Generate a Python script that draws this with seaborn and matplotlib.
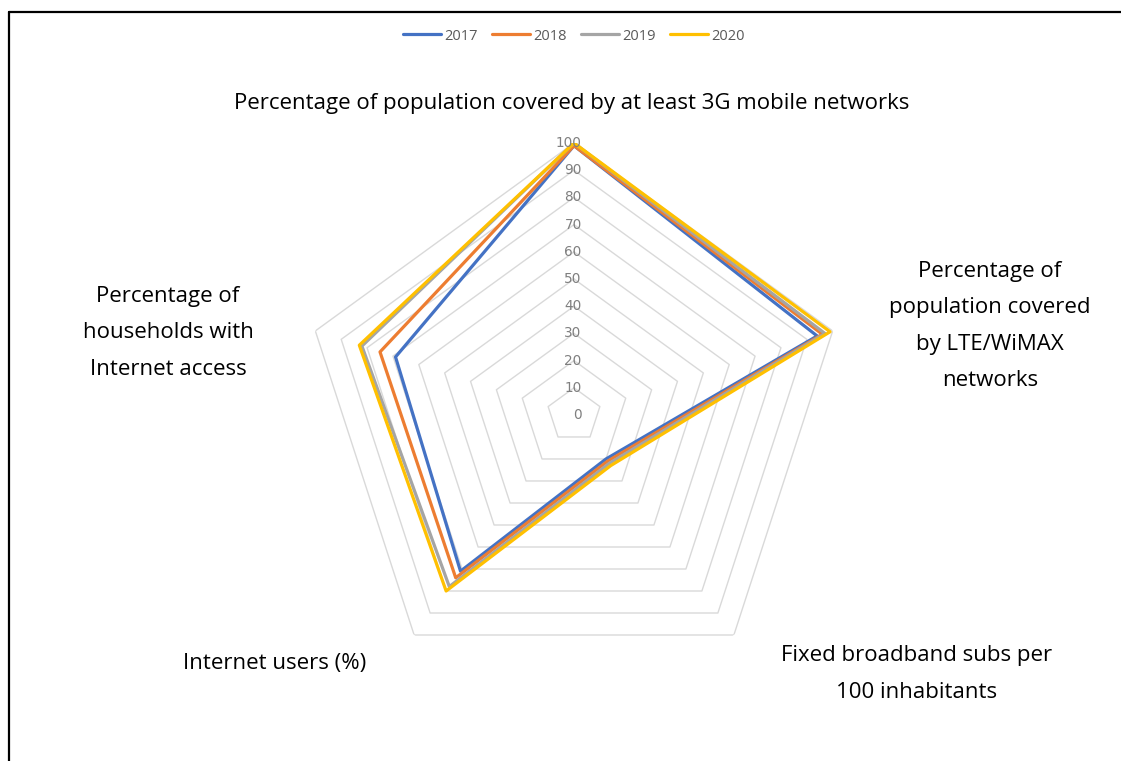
import numpy as np
import pandas as pd
import matplotlib
matplotlib.use("Agg")
import matplotlib.pyplot as plt
from matplotlib.lines import Line2D
import seaborn as sns

categories = [
    "Percentage of population covered by at least 3G mobile networks",
    "Percentage of\npopulation covered\nby LTE/WiMAX\nnetworks",
    "Fixed broadband subs per\n100 inhabitants",
    "Internet users (%)",
    "Percentage of\nhouseholds with\nInternet access",
]
years = ["2017", "2018", "2019", "2020"]
v2017 = [99, 94, 20, 71, 69]
v2018 = [99, 96, 21, 74, 75]
v2019 = [100, 97, 22, 78, 82]
v2020 = [100, 99, 23, 80, 83]
series = [v2017, v2018, v2019, v2020]
colors = ["#4472C4", "#ED7D31", "#A5A5A5", "#FFC000"]
ticks = list(range(0, 101, 10))

sns.set_style("white")
plt.rcParams["font.family"] = ["Open Sans", "DejaVu Sans"]

n = len(categories)
theta = np.arange(n) * 2 * np.pi / n
closed = np.append(theta, 2 * np.pi)
rows = []
for y, vals in zip(years, series):
    for i, k in enumerate(list(range(n)) + [0]):
        rows.append({"theta": closed[i], "value": vals[k], "year": y})
df = pd.DataFrame(rows)

fig = plt.figure(figsize=(11.21, 7.61), dpi=100)
ax = fig.add_axes([0.2694, 0.0973, 0.4853, 0.7148], projection="polar")
ax.set_theta_offset(np.pi / 2)
ax.set_theta_direction(-1)
ax.set_ylim(0, 100)
ax.grid(False)
ax.spines["polar"].set_visible(False)
ax.set_xticks([])
ax.set_yticks([])

for t in ticks[1:]:
    ax.plot(closed, [t] * (n + 1), color="#D9D9D9", lw=1.0, zorder=1)

sns.lineplot(data=df, x="theta", y="value", hue="year", palette=colors,
             sort=False, estimator=None, units="year", legend=False, lw=2.3, ax=ax, zorder=3)
ax.set_xlabel("")
ax.set_ylabel("")

for t in ticks:
    ax.annotate(str(t), xy=(0, t), xytext=(5.5, 0), textcoords="offset points",
                ha="right", va="center", fontsize=9.8, color="#7F7F7F", zorder=4,
                family=["DejaVu Sans"])

# category labels (figure pixel positions)
W, H = 1121, 761
label_pos = [(572, 103), (990, 326), (917, 674), (275, 663), (168, 333)]
for lab, (px, py) in zip(categories, label_pos):
    fig.text(px / W, 1 - py / H, lab, ha="center", va="center", fontsize=16,
             color="#000000", linespacing=1.97)

handles = [Line2D([0], [0], color=c, lw=2.3) for c in colors]
fig.legend(handles, years, loc="center", bbox_to_anchor=(574 / W, 1 - 36 / H),
           ncol=4, frameon=False, fontsize=10.5, handlelength=2.6, columnspacing=1.0,
           handletextpad=0.2, labelcolor="#595959")

# border lines (top and left)
fig.add_artist(Line2D([9 / W, 1], [1 - 12 / H, 1 - 12 / H], color="black", lw=1.6, transform=fig.transFigure))
fig.add_artist(Line2D([9 / W, 9 / W], [1 - 12 / H, 0], color="black", lw=1.6, transform=fig.transFigure))

fig.savefig("out.png", dpi=100, facecolor="white")
